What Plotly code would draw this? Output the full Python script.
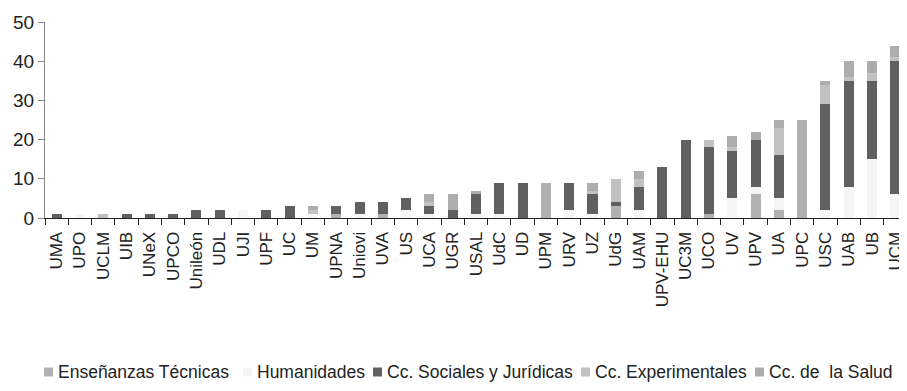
import plotly.graph_objects as go

universidades = ["UMA", "UPO", "UCLM", "UIB", "UNeX", "UPCO", "Unileón", "UDL", "UJI", "UPF",
                 "UC", "UM", "UPNA", "Uniovi", "UVA", "US", "UCA", "UGR", "USAL", "UdC",
                 "UD", "UPM", "URV", "UZ", "UdG", "UAM", "UPV-EHU", "UC3M", "UCO", "UV",
                 "UPV", "UA", "UPC", "USC", "UAB", "UB", "UCM"]

tecnicas =      [0, 0, 0, 0, 0, 0, 0, 0, 0, 0, 0, 0, 1, 0, 1, 0, 0, 0, 0, 0, 0, 9, 0, 0, 3, 0, 0, 0, 1, 0, 6, 2, 25, 0, 0, 0, 0]
humanidades =   [0, 1, 0, 0, 0, 0, 0, 0, 2, 0, 0, 1, 0, 1, 0, 2, 1, 0, 1, 1, 0, 0, 2, 1, 0, 2, 0, 0, 0, 5, 2, 3, 0, 2, 8, 15, 6]
sociales =      [1, 0, 0, 1, 1, 1, 2, 2, 0, 2, 3, 0, 2, 3, 3, 3, 2, 2, 5, 8, 9, 0, 7, 5, 1, 6, 13, 20, 17, 12, 12, 11, 0, 27, 27, 20, 34]
experimentales = [0, 0, 1, 0, 0, 0, 0, 0, 0, 0, 0, 1, 0, 0, 0, 0, 1, 0, 0, 0, 0, 0, 0, 1, 6, 2, 0, 0, 2, 1, 0, 7, 0, 5, 1, 2, 1]
salud =         [0, 0, 0, 0, 0, 0, 0, 0, 0, 0, 0, 1, 0, 0, 0, 0, 2, 4, 1, 0, 0, 0, 0, 2, 0, 2, 0, 0, 0, 3, 2, 2, 0, 1, 4, 3, 3]

series_names = ["Enseñanzas Técnicas", "Humanidades", "Cc. Sociales y Jurídicas",
                "Cc. Experimentales", "Cc. de  la Salud"]
series_values = [tecnicas, humanidades, sociales, experimentales, salud]
series_colors = ["#b1b1b4", "#f5f5f5", "#606060", "#c1c1c1", "#adadb0"]

FONT = "Liberation Sans, Arial, sans-serif"
TEXT = "#222222"

# The page body has an 8px margin, so the figure is drawn 8px right/down.
OFF = 8
W, H = 907 - OFF, 391 - OFF
ML, MR, MT, MB = 45 - OFF, 0, 22 - OFF, 173
PW, PH = W - ML - MR, H - MT - MB
legend_square_px = [44, 243, 373, 581, 755]   # left edge of each legend square (page px)
legend_y_px = 372
SQ = 9

fig = go.Figure()
for name, vals, color in zip(series_names, series_values, series_colors):
    fig.add_trace(go.Bar(x=universidades, y=vals, name=name, showlegend=False,
                         marker=dict(color=color, line=dict(width=0))))

def px_to_paper_x(px):
    return (px - OFF - ML) / PW

def px_to_paper_y(py):
    return (H - MB - (py - OFF)) / PH

shapes = []
annotations = []
for name, color, sx in zip(series_names, series_colors, legend_square_px):
    shapes.append(dict(type="rect", xref="paper", yref="paper",
                       x0=px_to_paper_x(sx), x1=px_to_paper_x(sx + SQ),
                       y0=px_to_paper_y(legend_y_px + SQ / 2), y1=px_to_paper_y(legend_y_px - SQ / 2),
                       fillcolor=color, line=dict(width=0)))
    annotations.append(dict(xref="paper", yref="paper", x=px_to_paper_x(sx + SQ + 3),
                            y=px_to_paper_y(legend_y_px), xanchor="left", yanchor="middle",
                            text=name, showarrow=False,
                            font=dict(family=FONT, size=17.5, color=TEXT)))

fig.update_layout(
    barmode="stack",
    bargap=0.57,
    width=W, height=H,
    margin=dict(l=ML, r=MR, t=MT, b=MB),
    plot_bgcolor="white", paper_bgcolor="white",
    font=dict(family=FONT, color=TEXT),
    showlegend=False,
    shapes=shapes,
    annotations=annotations,
)
fig.update_xaxes(
    type="category", tickangle=-90, showline=True, linecolor="#222222", linewidth=1,
    ticks="outside", tickson="boundaries", ticklen=6, tickcolor="#222222",
    tickfont=dict(size=17, family=FONT, color=TEXT),
    ticklabelstandoff=6, showgrid=False, range=[-0.5, 36.5], automargin=False,
)
fig.update_yaxes(
    range=[0, 50], dtick=10, showline=True, linecolor="#888888", linewidth=1,
    ticks="outside", ticklen=6, tickcolor="#888888", showgrid=False, zeroline=False,
    tickfont=dict(size=19, family=FONT, color=TEXT), automargin=False,
)

fig.write_html("out.html")
